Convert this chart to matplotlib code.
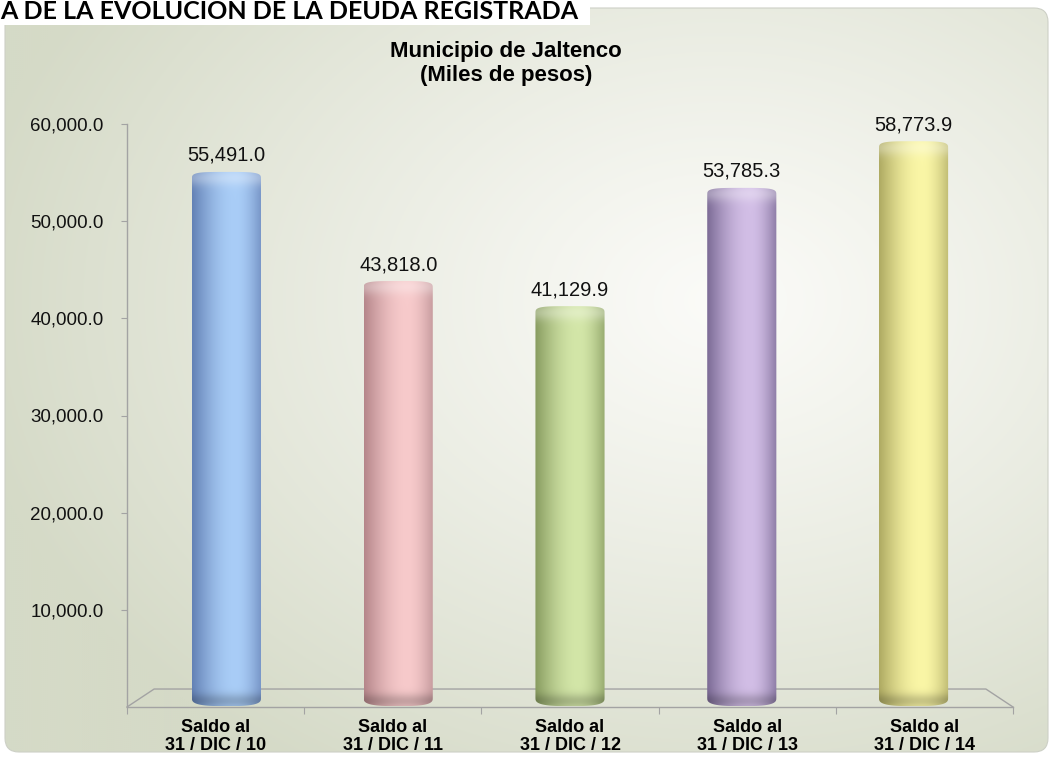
import matplotlib
matplotlib.use('Agg')
import numpy as np
import matplotlib.pyplot as plt
from matplotlib.path import Path
from matplotlib.patches import PathPatch, FancyBboxPatch, Rectangle
from matplotlib.colors import to_rgb
from matplotlib.ticker import FuncFormatter, FixedLocator

# --- datos ---
page_title = 'A DE LA EVOLUCIÓN DE LA DEUDA REGISTRADA'
chart_title = 'Municipio de Jaltenco\n(Miles de pesos)'
categories = ['Saldo al\n31 / DIC / 10', 'Saldo al\n31 / DIC / 11', 'Saldo al\n31 / DIC / 12',
              'Saldo al\n31 / DIC / 13', 'Saldo al\n31 / DIC / 14']
values = [55491.0, 43818.0, 41129.9, 53785.3, 58773.9]
yticks = [10000, 20000, 30000, 40000, 50000, 60000]
# (borde izq, brillo, borde der) para cada cilindro
bar_colors = [
    ('#6381B5', '#A9CDF7', '#7694C6'),
    ('#B5868A', '#F7CACB', '#C59A9D'),
    ('#879B5F', '#D3E6A8', '#98AC70'),
    ('#7B6A95', '#D2BEE6', '#8D7CA6'),
    ('#AEAA62', '#FAF6A6', '#C0BC74'),
]

W, H = 1053, 758
YMAX = 60000
N = len(values)

# "3D" del piso
FLOOR_DX = 0.153
FLOOR_DY = 1850
BACK_SCALE = 0.924
DEPTH = 0.5


def proj(x, v, d):
    xb = FLOOR_DX + x * (N - 2 * FLOOR_DX) / N
    return x + d * (xb - x), d * FLOOR_DY + v * (1 - d * (1 - BACK_SCALE))


def grad_colors(c0, c1, c2, n=200):
    c0, c1, c2 = np.array(to_rgb(c0)), np.array(to_rgb(c1)), np.array(to_rgb(c2))
    t = np.linspace(0, 1, n)
    peak = 0.62
    out = np.zeros((n, 3))
    for i, ti in enumerate(t):
        if ti <= peak:
            w = np.sin(np.pi / 2 * ti / peak)
            out[i] = c0 + (c1 - c0) * w
        else:
            w = np.cos(np.pi / 2 * (ti - peak) / (1 - peak))
            out[i] = c2 + (c1 - c2) * w
    return out


def cyl_path(xc, hw, base, top, eh_top, eh_bot, n=4):
    ts1 = np.linspace(np.pi, 2 * np.pi, 40)
    ts2 = np.linspace(0, np.pi, 40)

    def se(t, k):
        c, s = np.cos(t), np.sin(t)
        return np.sign(c) * np.abs(c) ** (2 / k), np.sign(s) * np.abs(s) ** (2 / k)

    cx1, sy1 = se(ts1, 3)
    cx2, sy2 = se(ts2, n)
    xs = np.concatenate([xc + hw * cx1, xc + hw * cx2])
    ys = np.concatenate([base + eh_bot * sy1, top + eh_top * sy2])
    verts = np.column_stack([xs, ys])
    verts = np.vstack([verts, verts[:1]])
    codes = [Path.MOVETO] + [Path.LINETO] * (len(verts) - 2) + [Path.CLOSEPOLY]
    return Path(verts, codes)


fig = plt.figure(figsize=(W / 100, H / 100), dpi=100)

# fondo
bg = fig.add_axes([0, 0, 1, 1])
bg.set_xlim(0, W)
bg.set_ylim(H, 0)
bg.axis('off')
yy, xx = np.mgrid[0:H:2, 0:W:2]
m = np.clip(np.sqrt(((xx - 720) / 760.0) ** 2 + ((yy - 300) / 560.0) ** 2), 0, 1) ** 1.15
edge = np.array(to_rgb('#D5DAC7'))
white = np.array(to_rgb('#FBFBF8'))
img = white[None, None, :] * (1 - m[..., None]) + edge[None, None, :] * m[..., None]
panel = FancyBboxPatch((5, 8), 1043, 744, boxstyle='round,pad=0,rounding_size=14',
                       facecolor='none', edgecolor='#CDD0C6', lw=0.8)
bg.add_patch(panel)
im = bg.imshow(img, extent=[0, W, H, 0], aspect='auto', zorder=0)
im.set_clip_path(panel)
bg.add_patch(Rectangle((0, 0), 590, 25, facecolor='white', edgecolor='none', zorder=2))
bg.text(0, 19, page_title, fontsize=18, fontweight='bold', family=['Lato', 'DejaVu Sans'],
        ha='left', va='baseline', zorder=3)
bg.text(506, 51, 'Municipio de Jaltenco', fontsize=16, fontweight='bold',
        family='Liberation Sans', ha='center', va='center', zorder=3)
bg.text(506, 75, '(Miles de pesos)', fontsize=16, fontweight='bold',
        family='Liberation Sans', ha='center', va='center', zorder=3)

# grafica
x_left, x_right = 127, 1013
y_bot, y_top = 707, 124
ax = fig.add_axes([x_left / W, 1 - y_bot / H, (x_right - x_left) / W, (y_bot - y_top) / H])
ax.set_facecolor('none')
ax.set_xlim(0, N)
ax.set_ylim(0, YMAX)
for s in ['top', 'right']:
    ax.spines[s].set_visible(False)
for s in ['left', 'bottom']:
    ax.spines[s].set_color('#A3A3A3')
    ax.spines[s].set_linewidth(1.0)

ax.yaxis.set_major_locator(FixedLocator(yticks))
ax.yaxis.set_major_formatter(FuncFormatter(lambda v, p: f'{v:,.1f}'))
ax.tick_params(axis='y', direction='out', length=4, color='#A3A3A3', pad=13,
               labelsize=13.5, labelcolor='#111111')
for lab in ax.get_yticklabels():
    lab.set_family('Liberation Sans')

ax.xaxis.set_major_locator(FixedLocator(np.arange(N + 1)))
ax.xaxis.set_major_formatter(FuncFormatter(lambda v, p: ''))
ax.xaxis.set_minor_locator(FixedLocator(np.arange(N) + 0.5))
ax.set_xticklabels(categories, minor=True)
ax.tick_params(axis='x', which='major', direction='out', length=5, color='#A3A3A3')
ax.tick_params(axis='x', which='minor', length=0, pad=9, labelsize=13)
for lab in ax.get_xticklabels(minor=True):
    lab.set_family('Liberation Sans')
    lab.set_fontweight('bold')
    lab.set_linespacing(1.05)

# piso
fl = [proj(0, 0, 0), proj(0, 0, 1), proj(N, 0, 1), proj(N, 0, 0)]
ax.plot([p[0] for p in fl], [p[1] for p in fl], color='#A3A3A3', lw=1.0, clip_on=False, zorder=1)

# cilindros
hw = 0.195
eh = 760
for i, (v, cols) in enumerate(zip(values, bar_colors)):
    xc, base = proj(i + 0.5, 0, DEPTH)
    _, top = proj(i + 0.5, v, DEPTH)
    path = cyl_path(xc, hw, base, top, eh, eh * 1.1)
    patch = PathPatch(path, facecolor='none', edgecolor='none', zorder=3)
    ax.add_patch(patch)
    row = grad_colors(*cols)
    ny = 400
    ys = np.linspace(base - eh * 1.1, top + eh, ny)
    light = 0.30 * np.exp(-((ys - (top + eh * 0.2)) / (eh * 1.1)) ** 2)
    dark = 0.20 * np.exp(-((ys - (base - eh * 0.5)) / (eh * 1.0)) ** 2)
    body = row[None, :, :] * np.ones((ny, 1, 1))
    body = body + (1 - body) * light[:, None, None]
    body = body * (1 - dark[:, None, None])
    bim = ax.imshow(np.clip(body, 0, 1), extent=[xc - hw, xc + hw, base - eh * 1.1, top + eh],
                    origin='lower', aspect='auto', zorder=3, interpolation='bilinear')
    bim.set_clip_path(patch)
    ax.annotate(f'{v:,.1f}', (xc, top + eh), xytext=(0, 7), textcoords='offset pixels',
                ha='center', va='bottom', fontsize=14.5, family='Liberation Sans',
                color='#111111', zorder=4)

ax.set_xlim(0, N)
ax.set_ylim(0, YMAX)

plt.savefig('out.png', dpi=100)
